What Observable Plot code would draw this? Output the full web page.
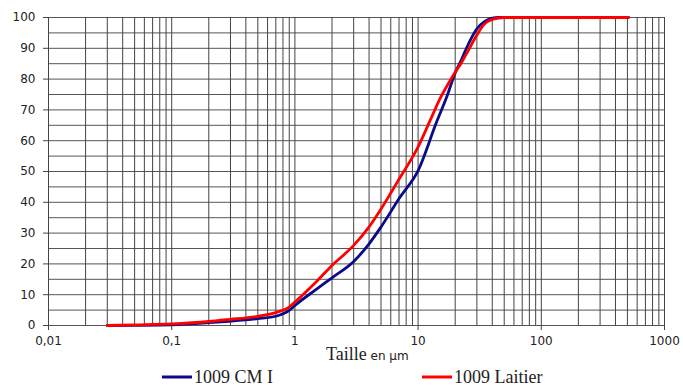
<!DOCTYPE html>
<html>
<head>
<meta charset="utf-8">
<script src="https://cdn.jsdelivr.net/npm/d3@7"></script>
<script src="https://cdn.jsdelivr.net/npm/@observablehq/plot@0.6"></script>
<style>
  html, body { margin: 0; padding: 0; background: #fff; overflow: hidden; }
  #chart { position: relative; width: 683px; height: 385px; }
</style>
</head>
<body>
<div id="chart"></div>
<script>
// Particle size distribution (cumulative %), size in µm
const sizesLaitier = [0.03, 0.05, 0.1, 0.2, 0.25, 0.3, 0.5, 0.7, 0.9, 1, 1.5, 2, 3, 4, 5, 6, 7, 10, 12.5, 15, 17, 20, 22.6, 25, 30, 34, 40, 50, 60, 100, 200, 510];
const valuesLaitier = [0, 0.2, 0.5, 1.3, 1.7, 2.0, 3.0, 4.2, 6.0, 7.6, 14.3, 19.5, 26, 32, 37.8, 43, 47.5, 58, 66.5, 73.5, 77.5, 82.2, 85.5, 88.6, 94.3, 97.6, 99.4, 100, 100, 100, 100, 100];

const sizesCM = [0.03, 0.05, 0.1, 0.2, 0.25, 0.5, 0.7, 0.9, 1, 1.5, 2, 3, 4, 5, 7.14, 10, 14.2, 17, 20, 22.6, 25, 30, 35, 40, 45, 100, 200, 510];
const valuesCM = [0, 0.05, 0.2, 0.9, 1.2, 2.2, 3.0, 4.9, 6.5, 11.8, 15.5, 20.8, 26.5, 32, 41.7, 50.3, 66.3, 74, 82, 86.5, 90.5, 96.3, 98.8, 99.8, 100, 100, 100, 100];

const seriesNames = ["1009 CM I", "1009 Laitier"];
const seriesColors = ["#0b0b8a", "#ff0000"];

const xTicks = [0.01, 0.1, 1, 10, 100, 1000];
const xTickLabels = ["0,01", "0,1", "1", "10", "100", "1000"];
const yTicks = [0, 10, 20, 30, 40, 50, 60, 70, 80, 90, 100];
const yGrid = [0, 5, 10, 15, 20, 25, 30, 35, 40, 45, 50, 55, 60, 65, 70, 75, 80, 85, 90, 95, 100];
const xLabelParts = ["Taille", " en µm"];

const rows = [
  ...sizesCM.map((s, i) => ({series: seriesNames[0], size: s, value: valuesCM[i]})),
  ...sizesLaitier.map((s, i) => ({series: seriesNames[1], size: s, value: valuesLaitier[i]}))
];

const xGrid = d3.scaleLog().domain([0.01, 1000]).ticks();

const plot = Plot.plot({
  width: 683,
  height: 385,
  marginTop: 17,
  marginBottom: 60,
  marginLeft: 48,
  marginRight: 19,
  style: {fontFamily: "'DejaVu Sans', sans-serif", fontSize: "12px", color: "#222", background: "#fff"},
  x: {type: "log", domain: [0.01, 1000]},
  y: {domain: [0, 100]},
  color: {domain: seriesNames, range: seriesColors},
  marks: [
    Plot.ruleY(yGrid, {stroke: "#555", strokeWidth: 1}),
    Plot.ruleX(xGrid, {stroke: "#444", strokeWidth: 1}),
    Plot.axisY({ticks: yTicks, tickSize: 5, tickPadding: 8, stroke: "#444", label: null, fontSize: 12}),
    Plot.axisX({ticks: xTicks, tickSize: 5, tickPadding: 6, stroke: "#444", label: null, fontSize: 12,
      tickFormat: d => xTickLabels[xTicks.indexOf(d)]}),
    Plot.line(rows, {x: "size", y: "value", z: "series", stroke: "series", strokeWidth: 2.8, curve: "monotone-x"})
  ]
});

document.getElementById("chart").appendChild(plot);

// x-axis title and legend as SVG text
const svg = d3.select(plot);
const t = svg.append("text").attr("x", 326).attr("y", 360).attr("fill", "#222").attr("text-anchor", "start");
t.append("tspan").attr("font-family", "'Liberation Serif', serif").attr("font-size", 18).text(xLabelParts[0]);
t.append("tspan").attr("font-family", "'DejaVu Sans', sans-serif").attr("font-size", 12).text(xLabelParts[1]);

const legendX = [162, 422];
seriesNames.forEach((name, i) => {
  const g = svg.append("g");
  g.append("line").attr("x1", legendX[i]).attr("x2", legendX[i] + 30).attr("y1", 377).attr("y2", 377)
    .attr("stroke", seriesColors[i]).attr("stroke-width", 3);
  g.append("text").attr("x", legendX[i] + 32).attr("y", 383).attr("text-anchor", "start")
    .attr("font-family", "'Liberation Serif', serif").attr("font-size", 18).attr("fill", "#222").text(name);
});
</script>
</body>
</html>
